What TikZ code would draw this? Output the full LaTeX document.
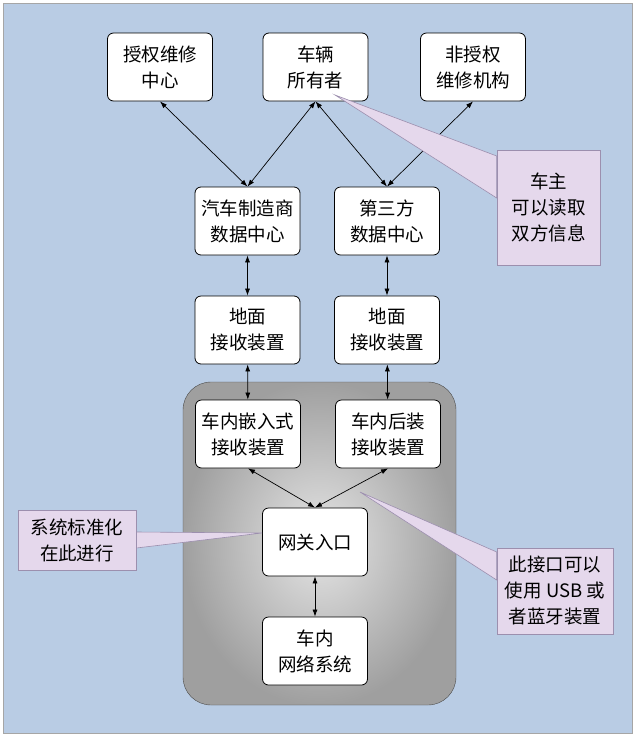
\documentclass[tikz,border=0pt]{standalone}
\usepackage{fontspec}
\setmainfont{Liberation Serif}
\newfontfamily\cjk{Noto Sans CJK SC}
\usetikzlibrary{arrows.meta,shadows}
\definecolor{bg}{HTML}{B9CCE4}
\definecolor{call}{HTML}{E5D8EC}
\definecolor{callb}{HTML}{9C8FAE}
\begin{document}
\begin{tikzpicture}[x=1pt,y=-1pt,
 box/.style={draw=black,fill=white,rounded corners=6pt,line width=0.8pt,minimum width=105pt,minimum height=68pt,align=center,font=\cjk\fontsize{18.5}{26}\selectfont,inner sep=0pt},
 cl/.style={draw=callb,fill=call,line width=0.6pt,align=center,font=\cjk\fontsize{18.5}{26}\selectfont,inner sep=0pt},
 ar/.style={{Latex[length=7pt,width=5pt]}-{Latex[length=7pt,width=5pt]},line width=0.7pt}]
\useasboundingbox (0,0) rectangle (635,740);
\fill[white] (0,0) rectangle (635,740);
\draw[fill=bg,draw=gray!70] (3,3) rectangle (632,733);
\shade[rounded corners=28pt,inner color=gray!20,outer color=gray!75,draw=gray!60!black] (183,382) rectangle (456,705);
% nodes
\node[box] (a) at (160,67) {授权维修\\中心};
\node[box] (o) at (315.5,67) {车辆\\所有者};
\node[box] (n) at (473,67) {非授权\\维修机构};
\node[box] (m) at (247.5,221) {汽车制造商\\数据中心};
\node[box] (t) at (387,221) {第三方\\数据中心};
\node[box] (g1) at (247.5,330) {地面\\接收装置};
\node[box] (g2) at (387,330) {地面\\接收装置};
\node[box] (e1) at (248,434) {车内嵌入式\\接收装置};
\node[box] (e2) at (388,434) {车内后装\\接收装置};
\node[box] (gw) at (315,542) {网关入口};
\node[box] (net) at (315,651) {车内\\网络系统};
% arrows
\draw[ar] (a.south) -- (m.north);
\draw[ar] (o.south) -- (m.north);
\draw[ar] (o.south) -- (t.north);
\draw[ar] (n.south) -- (t.north);
\draw[ar] (m) -- (g1);
\draw[ar] (t) -- (g2);
\draw[ar] (g1) -- (e1);
\draw[ar] (g2) -- (e2);
\draw[ar] (e1.south) -- (gw.north);
\draw[ar] (e2.south) -- (gw.north);
\draw[ar] (gw) -- (net);
% callouts
\node[cl,minimum width=103pt,minimum height=115pt] (c1) at (548.5,207.5) {};
\coordinate (p1) at (335,95);
\fill[call,draw=callb,line width=0.6pt] (p1) -- (c1.west |- 0,156) -- (c1.west |- 0,198) -- cycle;
\node[cl,minimum width=118pt,minimum height=60pt] (c2) at (77,540) {};
\coordinate (p2) at (262,533);
\fill[call,draw=callb,line width=0.6pt] (p2) -- (c2.east |- 0,532) -- (c2.east |- 0,548) -- cycle;
\node[cl,minimum width=116pt,minimum height=86pt] (c3) at (555,591) {};
\coordinate (p3) at (360,492);
\fill[call,draw=callb,line width=0.6pt] (p3) -- (c3.west |- 0,552) -- (c3.west |- 0,580) -- cycle;
\node[cl,minimum width=103pt,minimum height=115pt] at (c1) {车主\\可以读取\\双方信息};
\node[cl,minimum width=118pt,minimum height=60pt] at (c2) {系统标准化\\在此进行};
\node[cl,minimum width=116pt,minimum height=86pt] at (c3) {此接口可以\\使用 USB 或\\者蓝牙装置};
\end{tikzpicture}
\end{document}
